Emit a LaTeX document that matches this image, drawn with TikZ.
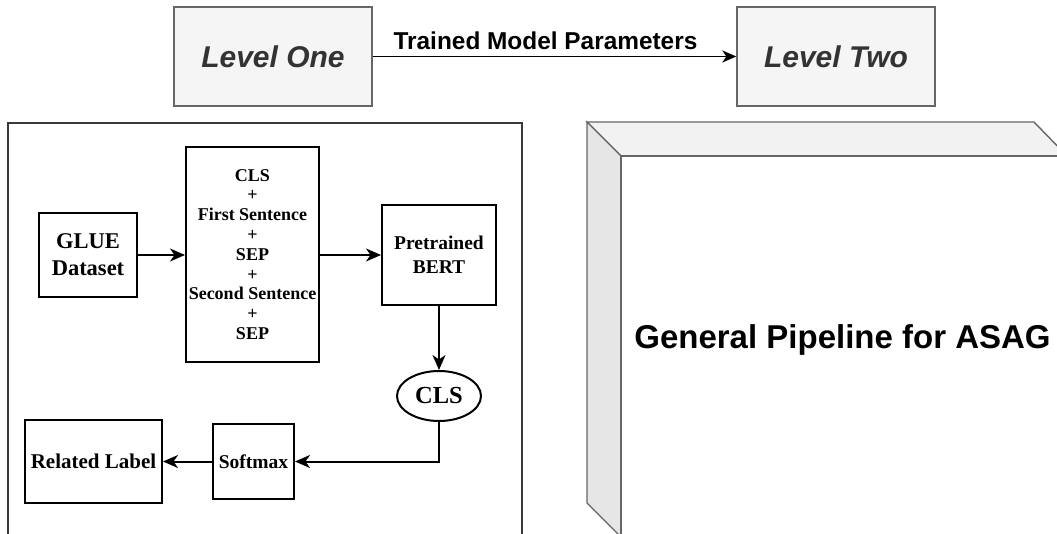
\documentclass[tikz,border=0pt]{standalone}
\usepackage{fontspec}
\setmainfont{Liberation Serif}
\setsansfont{Liberation Sans}
\usetikzlibrary{arrows.meta,shapes.geometric}
\definecolor{lvlfill}{HTML}{F5F5F5}
\definecolor{lvlline}{HTML}{666666}
\definecolor{lvltext}{HTML}{333333}
\definecolor{frameline}{HTML}{36393D}
\definecolor{topface}{HTML}{F2F2F2}
\definecolor{sideface}{HTML}{E6E6E6}
\tikzset{
  lvlbox/.style={draw=lvlline, fill=lvlfill, line width=1.4pt, minimum width=198pt, minimum height=99pt, inner sep=0pt,
    font=\sffamily\bfseries\itshape\fontsize{30}{34}\selectfont, text=lvltext},
  blk/.style={draw=black, line width=2pt, inner sep=0pt, align=center, font=\bfseries\fontsize{19}{24}\selectfont},
  arr/.style={-{Stealth[length=15pt,width=13pt,inset=4.5pt]}, line width=2pt},
  toparr/.style={-{Stealth[length=14pt,width=12pt,inset=4pt]}, line width=1.8pt},
  cubeline/.style={draw=lvlline, line width=1.4pt}
}
\begin{document}
\begin{tikzpicture}[x=1pt,y=-1pt]
\useasboundingbox (0,0) rectangle (1057,533);
\clip (0,0) rectangle (1057,533);
% top level boxes
\node[lvlbox] (l1) at (273,56.5) {Level One};
\node[lvlbox] (l2) at (836,56.5) {Level Two};
\draw[toparr] (l1.east) -- (l2.west);
\node[anchor=base, inner sep=0pt, font=\sffamily\bfseries\fontsize{24.4}{28}\selectfont] (tmp) at (545.5,49) {Trained Model Parameters};
% left frame
\coordinate (fbl) at (8,545);
\coordinate (fbr) at (522,545);
\draw[draw=frameline, line width=1.7pt] (fbl) -- (8,123) -- (522,123) -- (fbr);
% left pipeline
\node[blk, minimum width=98pt, minimum height=84pt, font=\bfseries\fontsize{22.5}{27}\selectfont] (glue) at (88,255) {GLUE\\Dataset};
\node[blk, minimum width=133pt, minimum height=215pt, font=\bfseries\fontsize{18}{19.8}\selectfont] (tok) at (252.5,254.5)
  {CLS\\+\\First Sentence\\+\\SEP\\+\\Second Sentence\\+\\SEP};
\node[blk, minimum width=114pt, minimum height=100pt, font=\bfseries\fontsize{19.5}{24}\selectfont] (bert) at (439,255) {Pretrained\\BERT};
\node[blk, ellipse, minimum width=84pt, minimum height=50pt, font=\bfseries\fontsize{24.5}{28}\selectfont] (cls) at (439,396) {CLS};
\node[blk, minimum width=81pt, minimum height=75pt, font=\bfseries\fontsize{19.5}{24}\selectfont] (soft) at (253.5,461.5) {Softmax};
\node[blk, minimum width=137pt, minimum height=83pt, font=\bfseries\fontsize{21}{24}\selectfont] (rel) at (93.5,461.5) {Related Label};
\draw[arr] (glue.east) -- (glue.east -| tok.west);
\draw[arr] (tok.east |- bert.west) -- (bert.west);
\draw[arr] (bert.south) -- (cls.north);
\draw[arr] (cls.south) |- (soft.east);
\draw[arr] (soft.west) -- (rel.east);
% 3D frame
\coordinate (btl) at (587,122);
\coordinate (btr) at (1034,122);
\coordinate (ftl) at (621,156);
\coordinate (ftr) at (1067,156);
\coordinate (bbl) at (587,503);
\coordinate (fbl2) at (621,537);
\coordinate (fbr2) at (1067,537);
\draw[cubeline, fill=topface] (btl) -- (btr) -- (ftr) -- (ftl) -- cycle;
\draw[cubeline, fill=sideface] (btl) -- (ftl) -- (fbl2) -- (bbl) -- cycle;
\draw[cubeline, fill=white] (ftl) -- (ftr) -- (fbr2) -- (fbl2) -- cycle;
\node[anchor=base, inner sep=0pt, font=\sffamily\bfseries\fontsize{33}{38}\selectfont] (gp) at (842.5,348) {General Pipeline for ASAG};
\end{tikzpicture}
\end{document}
